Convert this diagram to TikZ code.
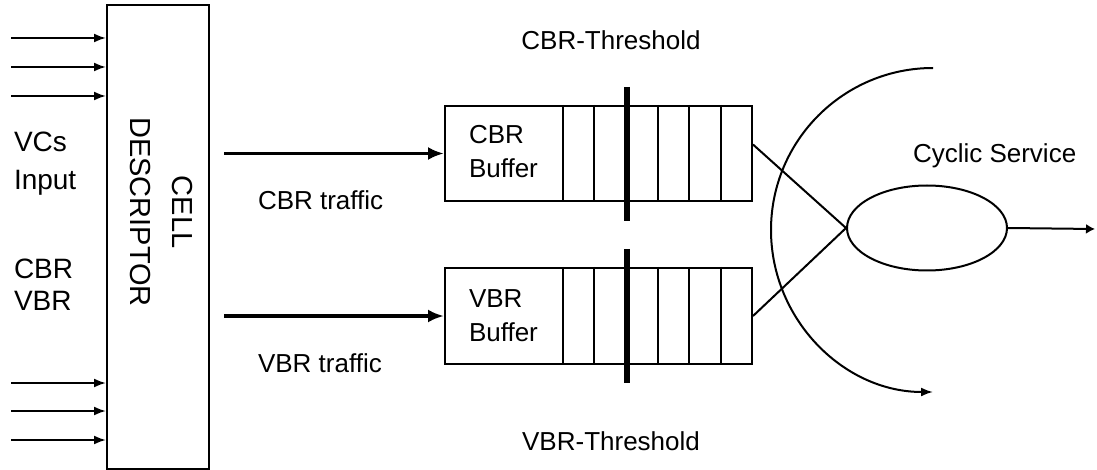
\documentclass[tikz,border=0pt]{standalone}
\usepackage{fontspec}
\setmainfont{Liberation Sans}
\usetikzlibrary{arrows.meta,calc,shapes.geometric}
\begin{document}
\begin{tikzpicture}[x=1pt,y=-1pt,
  line width=2pt,
  lbl/.style={font=\fontsize{26}{30}\selectfont, inner sep=0pt},
  lbig/.style={font=\fontsize{28}{32}\selectfont, inner sep=0pt, anchor=base west},
  box/.style={draw, line width=2pt, inner sep=0pt},
  thinarrow/.style={-{Latex[length=12pt,width=9pt]}, line width=2pt},
  thickarrow/.style={-{Latex[length=16pt,width=13pt]}, line width=3.2pt},
  thresh/.style={line width=6.5pt},
]
\useasboundingbox (0,0) rectangle (1097,470);
% cell descriptor
\node[box, minimum width=102pt, minimum height=464pt] (cd) at (158,237) {};
\node[rotate=-90, align=center, inner sep=0pt, font=\fontsize{29}{42}\selectfont] (cdtext) at (161,212) {CELL\\DESCRIPTOR};
\foreach \y [count=\i] in {38,67,96,383,411,440} {
  \coordinate (in\i) at (11,\y);
  \draw[thinarrow] (in\i) -- (in\i -| cd.west);
}
\node[lbig] (vcs) at (13,152) {VCs};
\node[lbig] (inp) at (13,190) {Input};
\node[lbig] (cbrl) at (13,278) {CBR};
\node[lbig] (vbrl) at (13,310) {VBR};
% buffers
\node[box, minimum width=307pt, minimum height=95pt] (cbrbuf) at (598.5,153.5) {};
\node[box, minimum width=307pt, minimum height=96pt] (vbrbuf) at (598.5,316) {};
\foreach \x in {563,594,658,689,721} {
  \draw (cbrbuf.north -| \x,0) -- (cbrbuf.south -| \x,0);
  \draw (vbrbuf.north -| \x,0) -- (vbrbuf.south -| \x,0);
}
\node[lbl, anchor=base west] (cbrt1) at (468,144) {CBR};
\node[lbl, anchor=base west] (cbrt2) at (468,178) {Buffer};
\node[lbl, anchor=base west] (vbrt1) at (468,307) {VBR};
\node[lbl, anchor=base west] (vbrt2) at (468,341) {Buffer};
% traffic arrows
\coordinate (ct) at (224,153.5);
\coordinate (vt) at (224,316);
\draw[thickarrow] (ct) -- (cbrbuf.west);
\draw[thickarrow] (vt) -- (vbrbuf.west);
\node[lbl, anchor=base west] (ctl) at (257,210) {CBR traffic};
\node[lbl, anchor=base west] (vtl) at (257,372) {VBR traffic};
% thresholds
\coordinate (ct1) at (627,87);
\coordinate (ct2) at (627,221);
\coordinate (vt1) at (627,249);
\coordinate (vt2) at (627,383);
\draw[thresh] (ct1) -- (ct2);
\draw[thresh] (vt1) -- (vt2);
\node[lbl, anchor=base] (cthl) at (611,50) {CBR-Threshold};
\node[lbl, anchor=base] (vthl) at (611,450) {VBR-Threshold};
% server
\node[draw, ellipse, line width=2pt, minimum width=160pt, minimum height=85pt, inner sep=0pt] (srv) at (927,228) {};
\node[lbl, anchor=base west] (cyc) at (912,163) {Cyclic Service};
\coordinate (cbrout) at ($(cbrbuf.east)+(0,-9)$);
\draw (cbrout) -- (srv.west);
\draw (vbrbuf.east) -- (srv.west);
\coordinate (out) at (1095,229);
\draw[-{Latex[length=9pt,width=10pt]}] (srv.east) -- (out);
\coordinate (arcs) at (933,68);
\draw[-{Latex[length=12pt,width=9pt]}] (arcs) arc[start angle=270, end angle=90, radius=162];
\end{tikzpicture}
\end{document}
